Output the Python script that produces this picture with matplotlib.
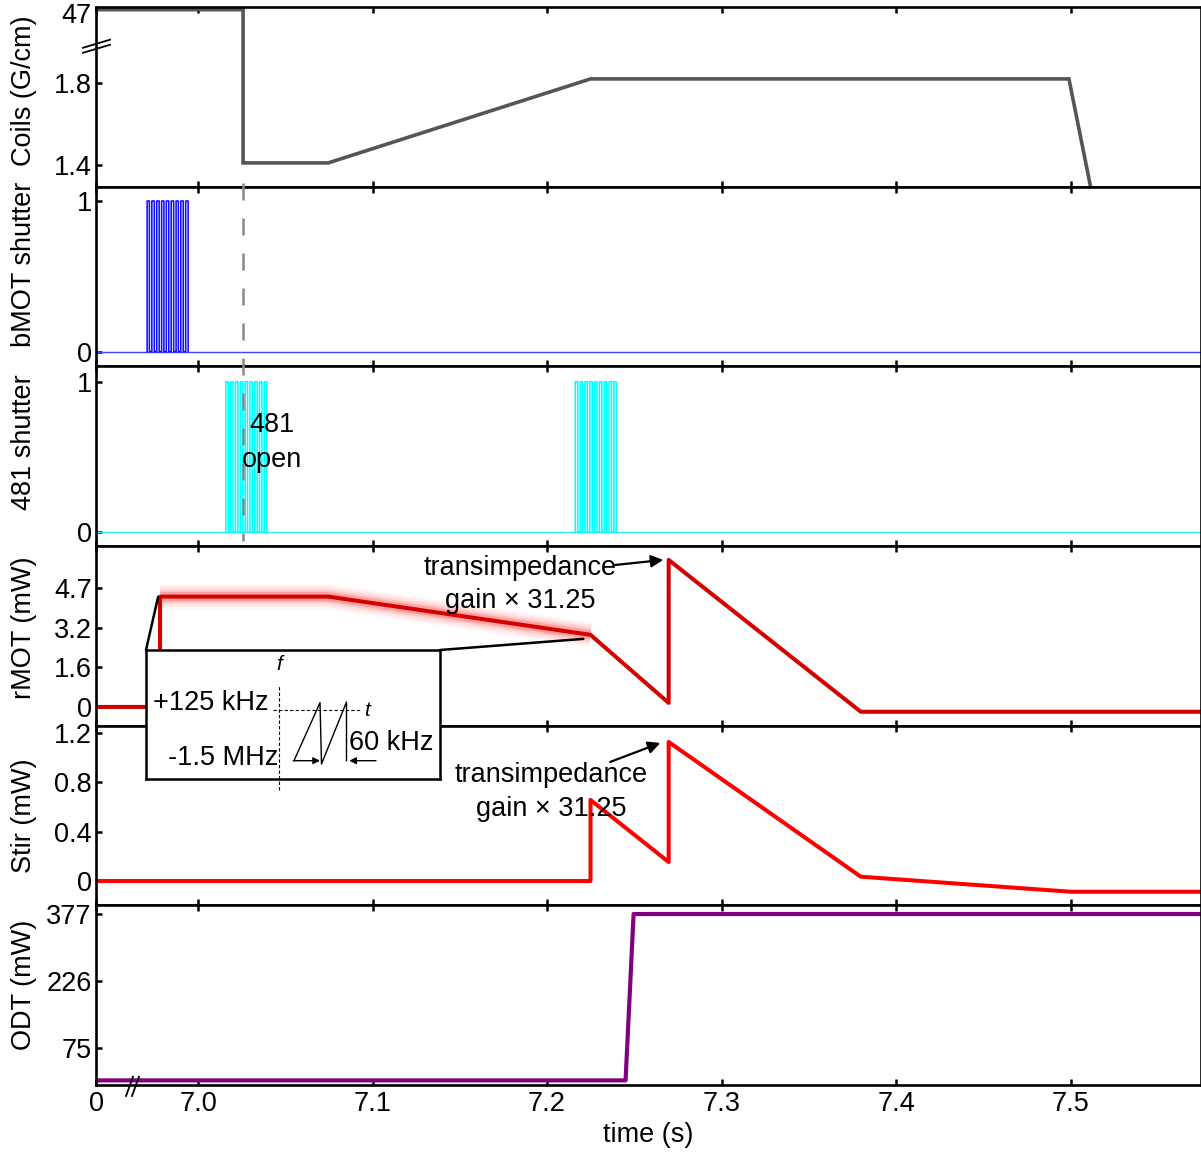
import matplotlib
matplotlib.use('Agg')
import matplotlib.pyplot as plt
import matplotlib.transforms as mtrans
from matplotlib.patches import ConnectionPatch
from matplotlib.lines import Line2D

plt.rcParams['font.family'] = ['Liberation Sans', 'DejaVu Sans']
FS = 19.5

# ---------------- data ----------------
XMIN, XMAX = 6.9415, 7.5745
x_ticks = [XMIN, 7.0, 7.1, 7.2, 7.3, 7.4, 7.5]
x_ticklabels = ['0', '7.0', '7.1', '7.2', '7.3', '7.4', '7.5']

# gradient coils (47 G/cm drawn above the axis break)
coil_t = [XMIN, 7.0258, 7.0258, 7.0746, 7.2249, 7.4991, 7.5137]
coil_v = [47, 47, 1.41, 1.41, 1.82, 1.82, 1.20]
coil_break_pos = 2.158          # plotted position of 47
coil_yticks = [1.4, 1.8, 2.142]
coil_yticklabels = ['1.4', '1.8', '47']

# shutter pulse edges (rise, fall, rise, fall, ...)
bmot_edges = [6.9708, 6.9721, 6.9735, 6.9749, 6.9763, 6.9777, 6.9791, 6.9804, 6.9818,
              6.9832, 6.9846, 6.9860, 6.9874, 6.9887, 6.9901, 6.9915, 6.9929, 6.9943]
s481_edges_a = [7.0159, 7.0173, 7.0187, 7.0200, 7.0214, 7.0228, 7.0242, 7.0256, 7.0270,
                7.0283, 7.0297, 7.0311, 7.0325, 7.0339, 7.0352, 7.0366, 7.0380, 7.0394]
s481_edges_b = [7.2162, 7.2176, 7.2190, 7.2203, 7.2217, 7.2231, 7.2245, 7.2259, 7.2273,
                7.2286, 7.2300, 7.2314, 7.2328, 7.2342, 7.2355, 7.2369, 7.2383, 7.2397]

# rMOT power (mW)
rmot_t = [XMIN, 6.9782, 6.9782, 7.0746, 7.2249, 7.2697, 7.2697, 7.3798, XMAX]
rmot_v = [0, 0, 4.36, 4.36, 2.85, 0.16, 5.81, -0.19, -0.19]
glow_t = [6.9782, 7.0746, 7.2249]
glow_v = [4.36, 4.36, 2.85]
rmot_yticks = [0, 1.57, 3.13, 4.7]
rmot_yticklabels = ['0', '1.6', '3.2', '4.7']

# stirring beam (mW)
stir_t = [XMIN, 7.2249, 7.2249, 7.2697, 7.2697, 7.3798, 7.5003, XMAX]
stir_v = [0, 0, 0.657, 0.154, 1.127, 0.035, -0.087, -0.087]
stir_yticks = [0, 0.4, 0.8, 1.2]
stir_yticklabels = ['0', '0.4', '0.8', '1.2']

# optical dipole trap (mW)
odt_t = [XMIN, 7.245, 7.2496, XMAX]
odt_v = [2, 2, 377, 377]
odt_yticks = [75, 226, 377]
odt_yticklabels = ['75', '226', '377']

shutter_mark_t = 7.0258

# inset schematic (box-pixel units: 294 x 129)
saw_x = [148, 174, 175.5, 200.5, 200.5]
saw_y = [18.3, 76.3, 15, 77, 18.3]

# ---------------- figure ----------------
W, H = 1201, 1152
fig = plt.figure(figsize=(W / 100, H / 100), dpi=100)
gs = fig.add_gridspec(6, 1, left=96 / W, right=1200.5 / W, top=1 - 7 / H,
                      bottom=1 - 1085 / H, hspace=0)
axes = [fig.add_subplot(gs[i]) for i in range(6)]
ax1, ax2, ax3, ax4, ax5, ax6 = axes

for ax in axes:
    ax.set_xlim(XMIN, XMAX)
    ax.set_xticks(x_ticks)
    ax.tick_params(axis='x', direction='in', top=True, bottom=True, length=4, width=1.8,
                   labelbottom=False, labelsize=FS, pad=4)
    ax.tick_params(axis='y', direction='in', left=True, right=False, length=4, width=1.8,
                   labelsize=FS, pad=3)
    for s in ax.spines.values():
        s.set_linewidth(1.9)
axes[-1].set_xticklabels(x_ticklabels)
axes[-1].tick_params(axis='x', labelbottom=True)
axes[-1].set_xlabel('time (s)', fontsize=FS, labelpad=4)

# panel 1 : coils
coil_plot = [coil_break_pos if v > 10 else v for v in coil_v]
ax1.plot(coil_t, coil_plot, color='#555555', lw=2.6, solid_joinstyle='miter')
ax1.set_ylim(1.294, 2.171)
ax1.set_yticks(coil_yticks)
ax1.set_yticklabels(coil_yticklabels)
ax1.yaxis.get_major_ticks()[2].tick1line.set_visible(False)
ax1.set_ylabel('Coils (G/cm)', fontsize=FS)
for dy in (0.0, 0.028):
    ax1.add_line(Line2D([-0.0118, 0.0127], [0.745 + dy, 0.79 + dy], transform=ax1.transAxes,
                        color='k', lw=1.3, clip_on=False))

# panel 2 : bMOT shutter
def pulse_xy(edges):
    xs, ys = [], []
    for r, f in zip(edges[0::2], edges[1::2]):
        xs += [r, r, f, f]
        ys += [0, 1, 1, 0]
    return xs, ys

ax2.axhline(0, color='#4444ff', lw=1.0)
px, py = pulse_xy(bmot_edges)
ax2.plot(px, py, color='#1010ff', lw=1.15, snap=False)
ax2.set_ylim(-0.098, 1.095)
ax2.set_yticks([0, 1])
ax2.set_ylabel('bMOT shutter', fontsize=FS)

# panel 3 : 481 shutter
ax3.axhline(0, color='#33eeee', lw=1.0)
for edges in (s481_edges_a, s481_edges_b):
    px, py = pulse_xy(edges)
    ax3.plot(px, py, color='#00ffff', lw=1.15, snap=False)
ax3.set_ylim(-0.095, 1.103)
ax3.set_yticks([0, 1])
ax3.set_ylabel('481 shutter', fontsize=FS)
ax3.text(7.0424, 0.595, '481\nopen', ha='center', va='center', fontsize=FS, linespacing=1.42)

# dashed marker through panels 2 and 3
blend = mtrans.blended_transform_factory(ax2.transData, fig.transFigure)
fig.add_artist(Line2D([shutter_mark_t, shutter_mark_t], [1 - 183 / H, 1 - 541 / H],
                      transform=blend, color='#888888', lw=1.8, dashes=(6.8, 7.2), zorder=3))

# panel 4 : rMOT
for w, a in [(18, 0.04), (15, 0.06), (12, 0.08), (9, 0.12), (6.5, 0.2)]:
    ax4.plot(glow_t, glow_v, color='#ff2020', lw=w, alpha=a, solid_capstyle='butt')
ax4.plot(rmot_t, rmot_v, color='#d50000', lw=2.9)
ax4.set_ylim(-0.74, 6.36)
ax4.set_yticks(rmot_yticks)
ax4.set_yticklabels(rmot_yticklabels)
ax4.set_ylabel('rMOT (mW)', fontsize=FS)
ax4.text(7.1846, 4.83, 'transimpedance\ngain \u00d7 31.25', ha='center', va='center',
         fontsize=FS, linespacing=1.36)
ax4.annotate('', xy=(7.2666, 5.81), xytext=(7.2391, 5.61),
             arrowprops=dict(arrowstyle='-|>', color='k', lw=1.6, mutation_scale=18,
                             shrinkA=0, shrinkB=0))

# panel 5 : stir
ax5.plot(stir_t, stir_v, color='#ff0000', lw=2.9)
ax5.set_ylim(-0.197, 1.259)
ax5.set_yticks(stir_yticks)
ax5.set_yticklabels(stir_yticklabels)
ax5.set_ylabel('Stir (mW)', fontsize=FS)
ax5.text(7.2024, 0.722, 'transimpedance\ngain \u00d7 31.25', ha='center', va='center',
         fontsize=FS, linespacing=1.36)
ax5.annotate('', xy=(7.2649, 1.119), xytext=(7.2362, 0.965),
             arrowprops=dict(arrowstyle='-|>', color='k', lw=1.6, mutation_scale=18,
                             shrinkA=0, shrinkB=0))

# panel 6 : ODT
ax6.plot(odt_t, odt_v, color='#800080', lw=3.0)
ax6.set_ylim(-8.4, 396.6)
ax6.set_yticks(odt_yticks)
ax6.set_yticklabels(odt_yticklabels)
ax6.set_ylabel('ODT (mW)', fontsize=FS)
for x0 in (0.0272, 0.0326):
    ax6.add_line(Line2D([x0, x0 + 0.0063], [-0.061, 0.046], transform=ax6.transAxes,
                        color='k', lw=1.3, clip_on=False))

# y label positions
label_y = [0.533, 0.57, 0.576, 0.546, 0.50, 0.556]
for ax, ly in zip(axes, label_y):
    ax.yaxis.set_label_coords(-0.0535, ly)

# ---------------- inset ----------------
ins = fig.add_axes([146 / W, 1 - 779 / H, 294 / W, 129 / H], zorder=10)
ins.set_xlim(0, 294)
ins.set_ylim(0, 129)
ins.set_xticks([])
ins.set_yticks([])
for s in ins.spines.values():
    s.set_linewidth(1.8)
ins.plot([133, 133], [-11, 94], color='k', lw=0.8, ls=(0, (3, 2)), clip_on=False)
ins.plot([126.7, 214.7], [69, 69], color='k', lw=0.8, ls=(0, (3, 2)))
ins.plot(saw_x, saw_y, color='k', lw=1.0)
ins.annotate('', xy=(174, 18.3), xytext=(147.3, 18.3),
             arrowprops=dict(arrowstyle='-|>', color='k', lw=1.0, mutation_scale=10,
                             shrinkA=0, shrinkB=0))
ins.annotate('', xy=(203.3, 18.3), xytext=(230, 18.3),
             arrowprops=dict(arrowstyle='-|>', color='k', lw=1.0, mutation_scale=10,
                             shrinkA=0, shrinkB=0))
ins.text(133, 114, 'f', style='italic', ha='center', va='center', fontsize=15)
ins.text(221, 69, 't', style='italic', ha='center', va='center', fontsize=15)
ins.text(7, 76, '+125 kHz', ha='left', va='center', fontsize=FS)
ins.text(132, 21, '-1.5 MHz', ha='right', va='center', fontsize=FS)
ins.text(203, 36, '60 kHz', ha='left', va='center', fontsize=FS)

for xyA, xyB in [((0, 1), (6.9771, 4.35)), ((1, 1), (7.2208, 2.69))]:
    con = ConnectionPatch(xyA=xyA, coordsA=ins.transAxes, xyB=xyB, coordsB=ax4.transData,
                          color='k', lw=1.8, zorder=5)
    fig.add_artist(con)

fig.savefig('out.png', dpi=100)
